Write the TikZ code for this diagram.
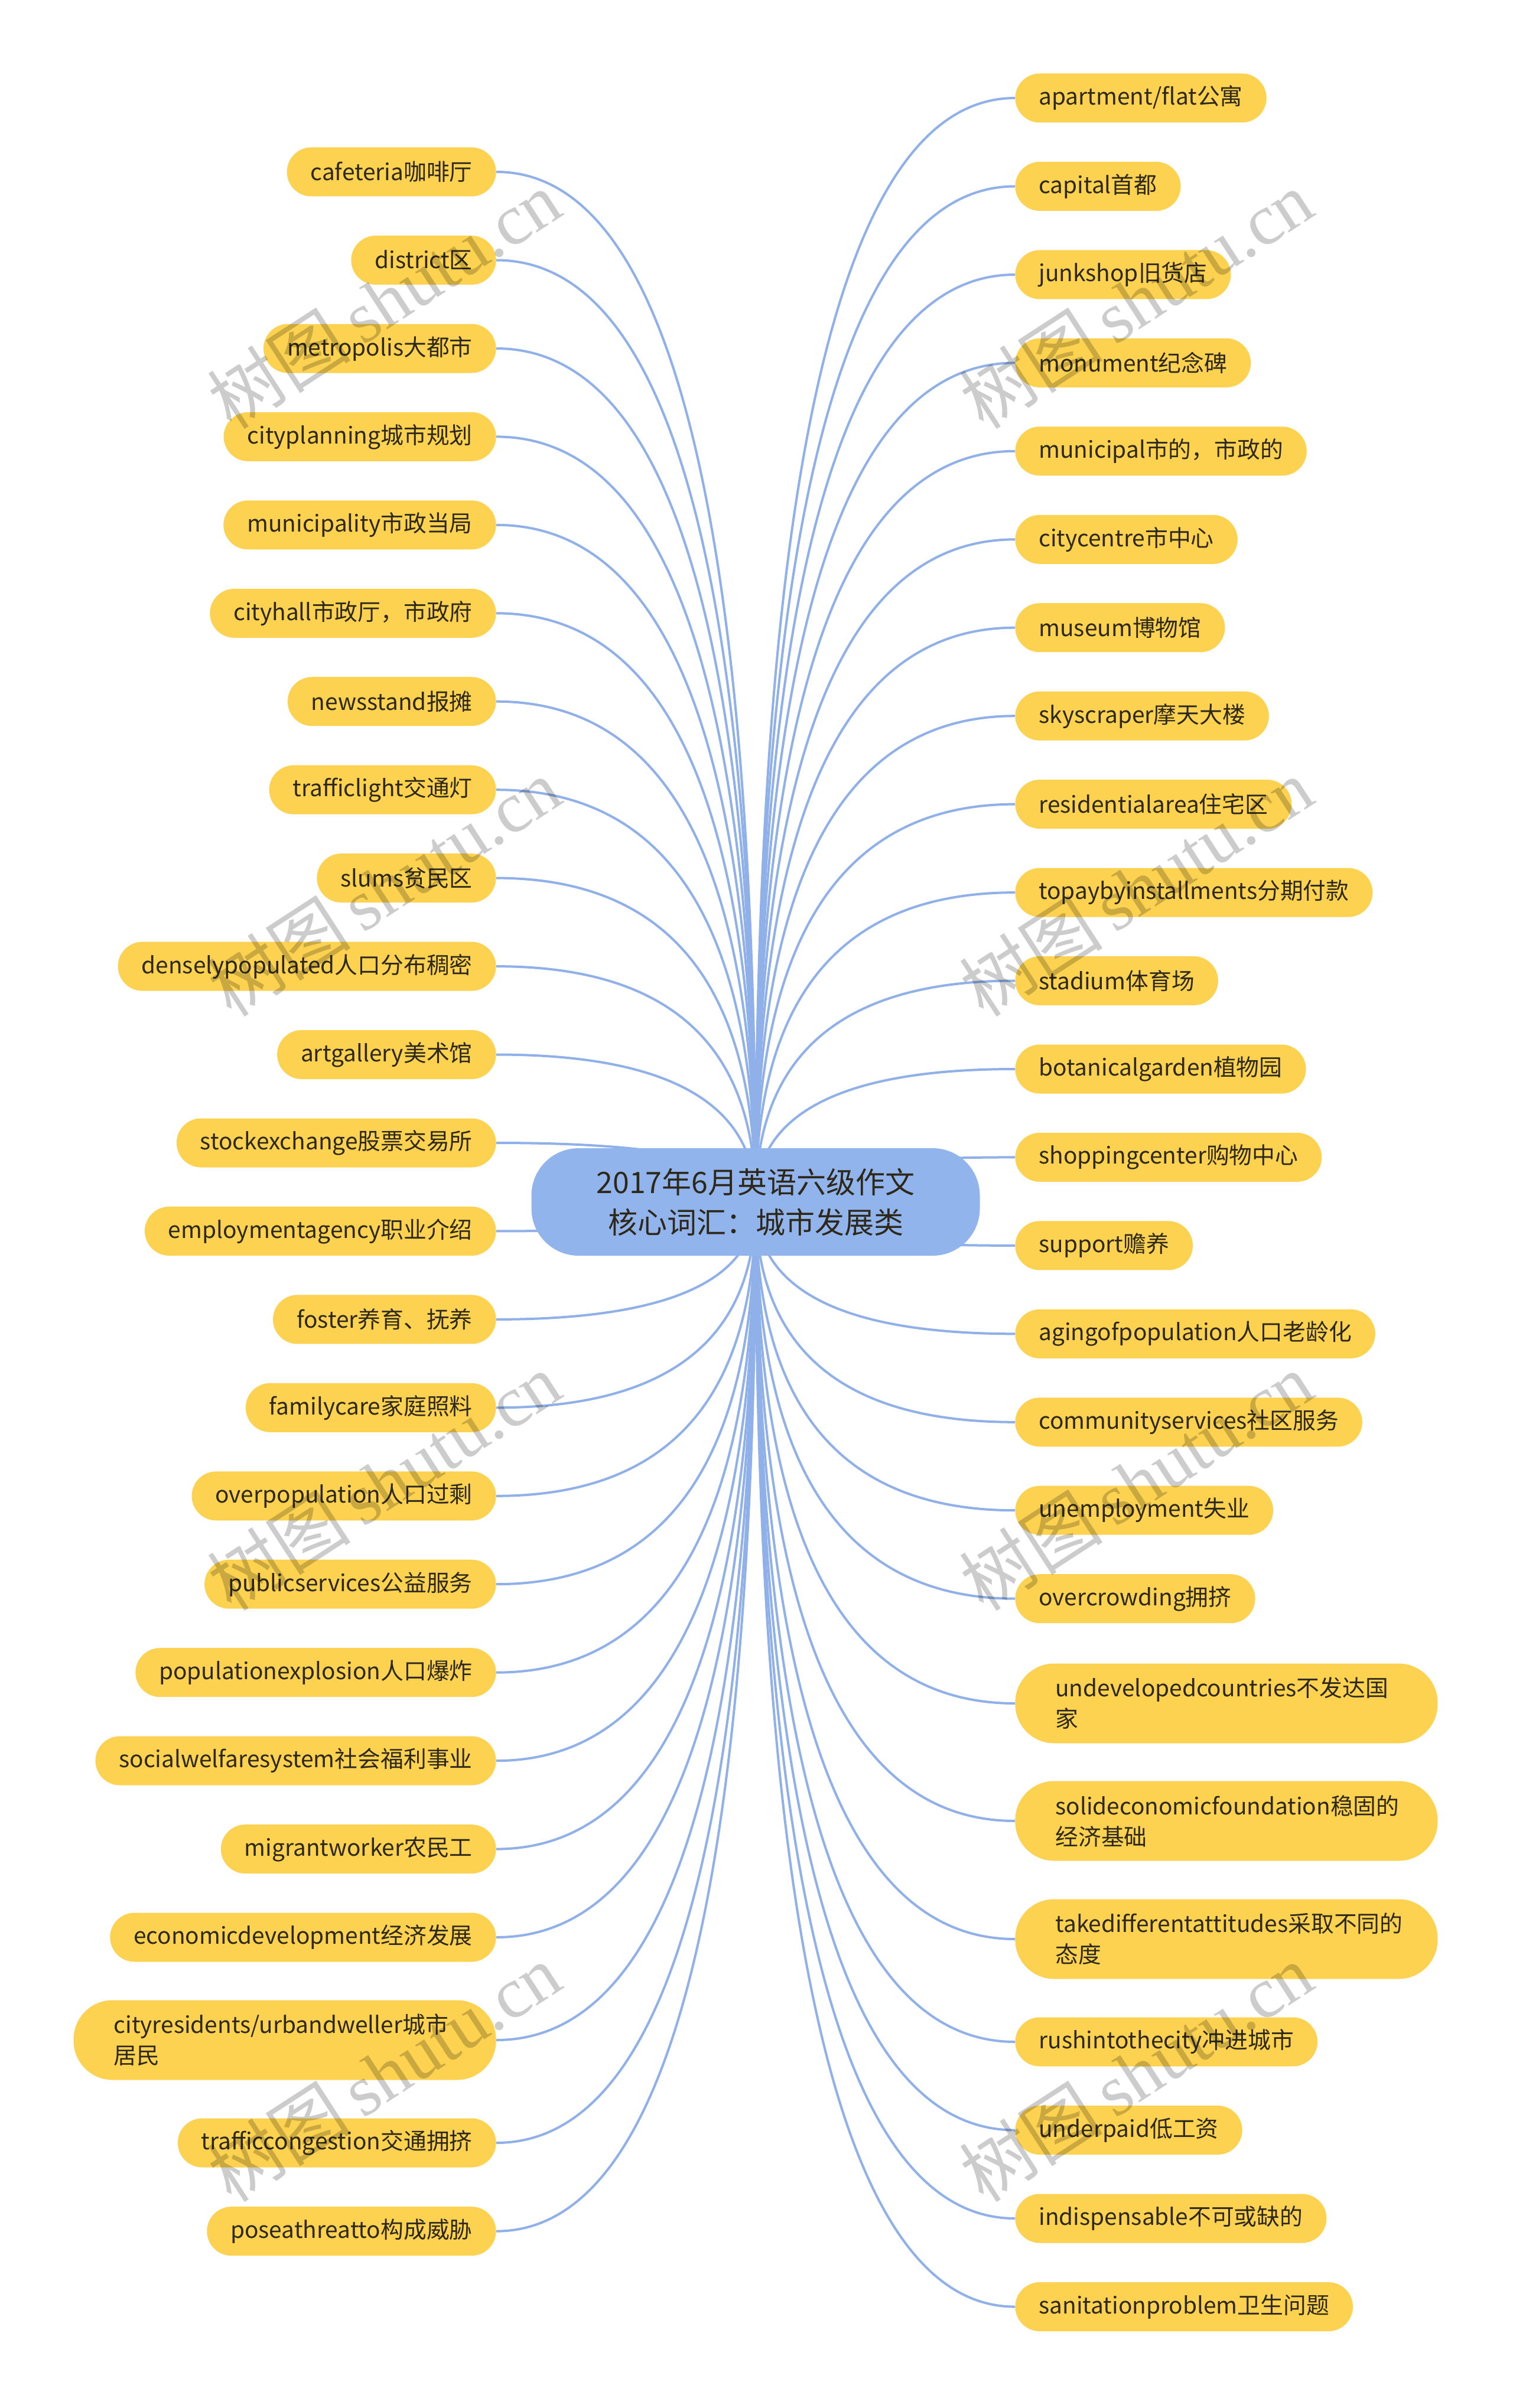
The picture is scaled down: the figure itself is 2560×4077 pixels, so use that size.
\documentclass[tikz,border=0pt]{standalone}
\usepackage{fontspec}
\setmainfont{Noto Sans CJK SC}
\newfontfamily\wmserif{Liberation Serif}
\usetikzlibrary{calc}
\definecolor{leafy}{RGB}{252,210,80}
\definecolor{cblue}{RGB}{146,180,236}
\definecolor{lblue}{RGB}{143,176,232}
\definecolor{txt}{RGB}{45,40,25}
\pgfdeclarelayer{bg}
\pgfsetlayers{bg,main}
\newcommand\myconL[1]{%
  \coordinate (k#1) at (c.center |- #1.east);
  \draw[conn] (c.center) .. controls ($(c.center)!0.667!(k#1)$) and ($(#1.east)!0.667!(k#1)$) .. (#1.east);}
\newcommand\myconR[1]{%
  \coordinate (k#1) at (c.center |- #1.west);
  \draw[conn] (c.center) .. controls ($(c.center)!0.667!(k#1)$) and ($(#1.west)!0.667!(k#1)$) .. (#1.west);}
\begin{document}
\begin{tikzpicture}[x=0.5pt,y=-0.5pt,
  leaf/.style={fill=leafy, rounded corners=20.75pt, minimum height=41.5pt, inner xsep=20pt, inner ysep=0pt,
    font=\fontsize{19.4}{26}\selectfont, text=txt},
  leaftwo/.style={leaf, rounded corners=33pt, minimum height=67.5pt, text width=289.5pt, inner xsep=34pt, align=left},
  lleaf/.style={leaf, anchor=east},
  rleaf/.style={leaf, anchor=west},
  cnode/.style={fill=cblue, rounded corners=40pt, minimum width=379.5pt, minimum height=91pt,
    font=\fontsize{25}{34}\selectfont, align=center, text=txt},
  conn/.style={draw=lblue, line width=2pt},
  wm/.style={font=\fontsize{61}{61}\selectfont, text=black, opacity=0.2, rotate=33}]
\useasboundingbox (0,0) rectangle (2560,4077);

\node[cnode] (c) at (1279,2035) {2017年6月英语六级作文\\核心词汇：城市发展类};

% left leaves
\node[lleaf] (L1) at (840,291) {cafeteria咖啡厅};
\node[lleaf] (L2) at (840,440.5) {district区};
\node[lleaf] (L3) at (840,590) {metropolis大都市};
\node[lleaf] (L4) at (840,739.4) {cityplanning城市规划};
\node[lleaf] (L5) at (840,888.8) {municipality市政当局};
\node[lleaf] (L6) at (840,1038.3) {cityhall市政厅，市政府};
\node[lleaf] (L7) at (840,1187.7) {newsstand报摊};
\node[lleaf] (L8) at (840,1337.2) {trafficlight交通灯};
\node[lleaf] (L9) at (840,1486.6) {slums贫民区};
\node[lleaf] (L10) at (840,1636.1) {denselypopulated人口分布稠密};
\node[lleaf] (L11) at (840,1785.5) {artgallery美术馆};
\node[lleaf] (L12) at (840,1935) {stockexchange股票交易所};
\node[lleaf] (L13) at (840,2084.4) {employmentagency职业介绍};
\node[lleaf] (L14) at (840,2233.9) {foster养育、抚养};
\node[lleaf] (L15) at (840,2383.3) {familycare家庭照料};
\node[lleaf] (L16) at (840,2532.8) {overpopulation人口过剩};
\node[lleaf] (L17) at (840,2682.2) {publicservices公益服务};
\node[lleaf] (L18) at (840,2831.7) {populationexplosion人口爆炸};
\node[lleaf] (L19) at (840,2981.1) {socialwelfaresystem社会福利事业};
\node[lleaf] (L20) at (840,3130.6) {migrantworker农民工};
\node[lleaf] (L21) at (840,3280) {economicdevelopment经济发展};
\node[lleaf,leaftwo] (L22) at (840,3454) {cityresidents/urbandweller城市\\居民};
\node[lleaf] (L23) at (840,3628) {trafficcongestion交通拥挤};
\node[lleaf] (L24) at (840,3777.6) {poseathreatto构成威胁};

% right leaves
\node[rleaf] (R1) at (1718,166) {apartment/flat公寓};
\node[rleaf] (R2) at (1718,315.5) {capital首都};
\node[rleaf] (R3) at (1718,465) {junkshop旧货店};
\node[rleaf] (R4) at (1718,614.4) {monument纪念碑};
\node[rleaf] (R5) at (1718,763.8) {municipal市的，市政的};
\node[rleaf] (R6) at (1718,913.3) {citycentre市中心};
\node[rleaf] (R7) at (1718,1062.7) {museum博物馆};
\node[rleaf] (R8) at (1718,1212.2) {skyscraper摩天大楼};
\node[rleaf] (R9) at (1718,1361.6) {residentialarea住宅区};
\node[rleaf] (R10) at (1718,1511.1) {topaybyinstallments分期付款};
\node[rleaf] (R11) at (1718,1660.5) {stadium体育场};
\node[rleaf] (R12) at (1718,1810) {botanicalgarden植物园};
\node[rleaf] (R13) at (1718,1959.4) {shoppingcenter购物中心};
\node[rleaf] (R14) at (1718,2108.9) {support赡养};
\node[rleaf] (R15) at (1718,2258.3) {agingofpopulation人口老龄化};
\node[rleaf] (R16) at (1718,2407.8) {communityservices社区服务};
\node[rleaf] (R17) at (1718,2557.2) {unemployment失业};
\node[rleaf] (R18) at (1718,2706.7) {overcrowding拥挤};
\node[rleaf,leaftwo] (R19) at (1718,2884) {undevelopedcountries不发达国\\家};
\node[rleaf,leaftwo] (R20) at (1718,3083) {solideconomicfoundation稳固的\\经济基础};
\node[rleaf,leaftwo] (R21) at (1718,3283) {takedifferentattitudes采取不同的\\态度};
\node[rleaf] (R22) at (1718,3457) {rushintothecity冲进城市};
\node[rleaf] (R23) at (1718,3606.5) {underpaid低工资};
\node[rleaf] (R24) at (1718,3756) {indispensable不可或缺的};
\node[rleaf] (R25) at (1718,3905.5) {sanitationproblem卫生问题};

\begin{pgfonlayer}{bg}
\fill[white] (0,0) rectangle (2560,4077);
\foreach \i in {1,...,24} {\myconL{L\i}}
\foreach \i in {1,...,25} {\myconR{R\i}}
\end{pgfonlayer}

% watermarks
\node[wm] (w1) at (650,507) {树图\,{\wmserif shutu.cn}};
\node[wm] (w2) at (1923,507) {树图\,{\wmserif shutu.cn}};
\node[wm] (w3) at (650,1502) {树图\,{\wmserif shutu.cn}};
\node[wm] (w4) at (1923,1502) {树图\,{\wmserif shutu.cn}};
\node[wm] (w5) at (650,2508) {树图\,{\wmserif shutu.cn}};
\node[wm] (w6) at (1923,2508) {树图\,{\wmserif shutu.cn}};
\node[wm] (w7) at (650,3509) {树图\,{\wmserif shutu.cn}};
\node[wm] (w8) at (1923,3509) {树图\,{\wmserif shutu.cn}};
\end{tikzpicture}
\end{document}
